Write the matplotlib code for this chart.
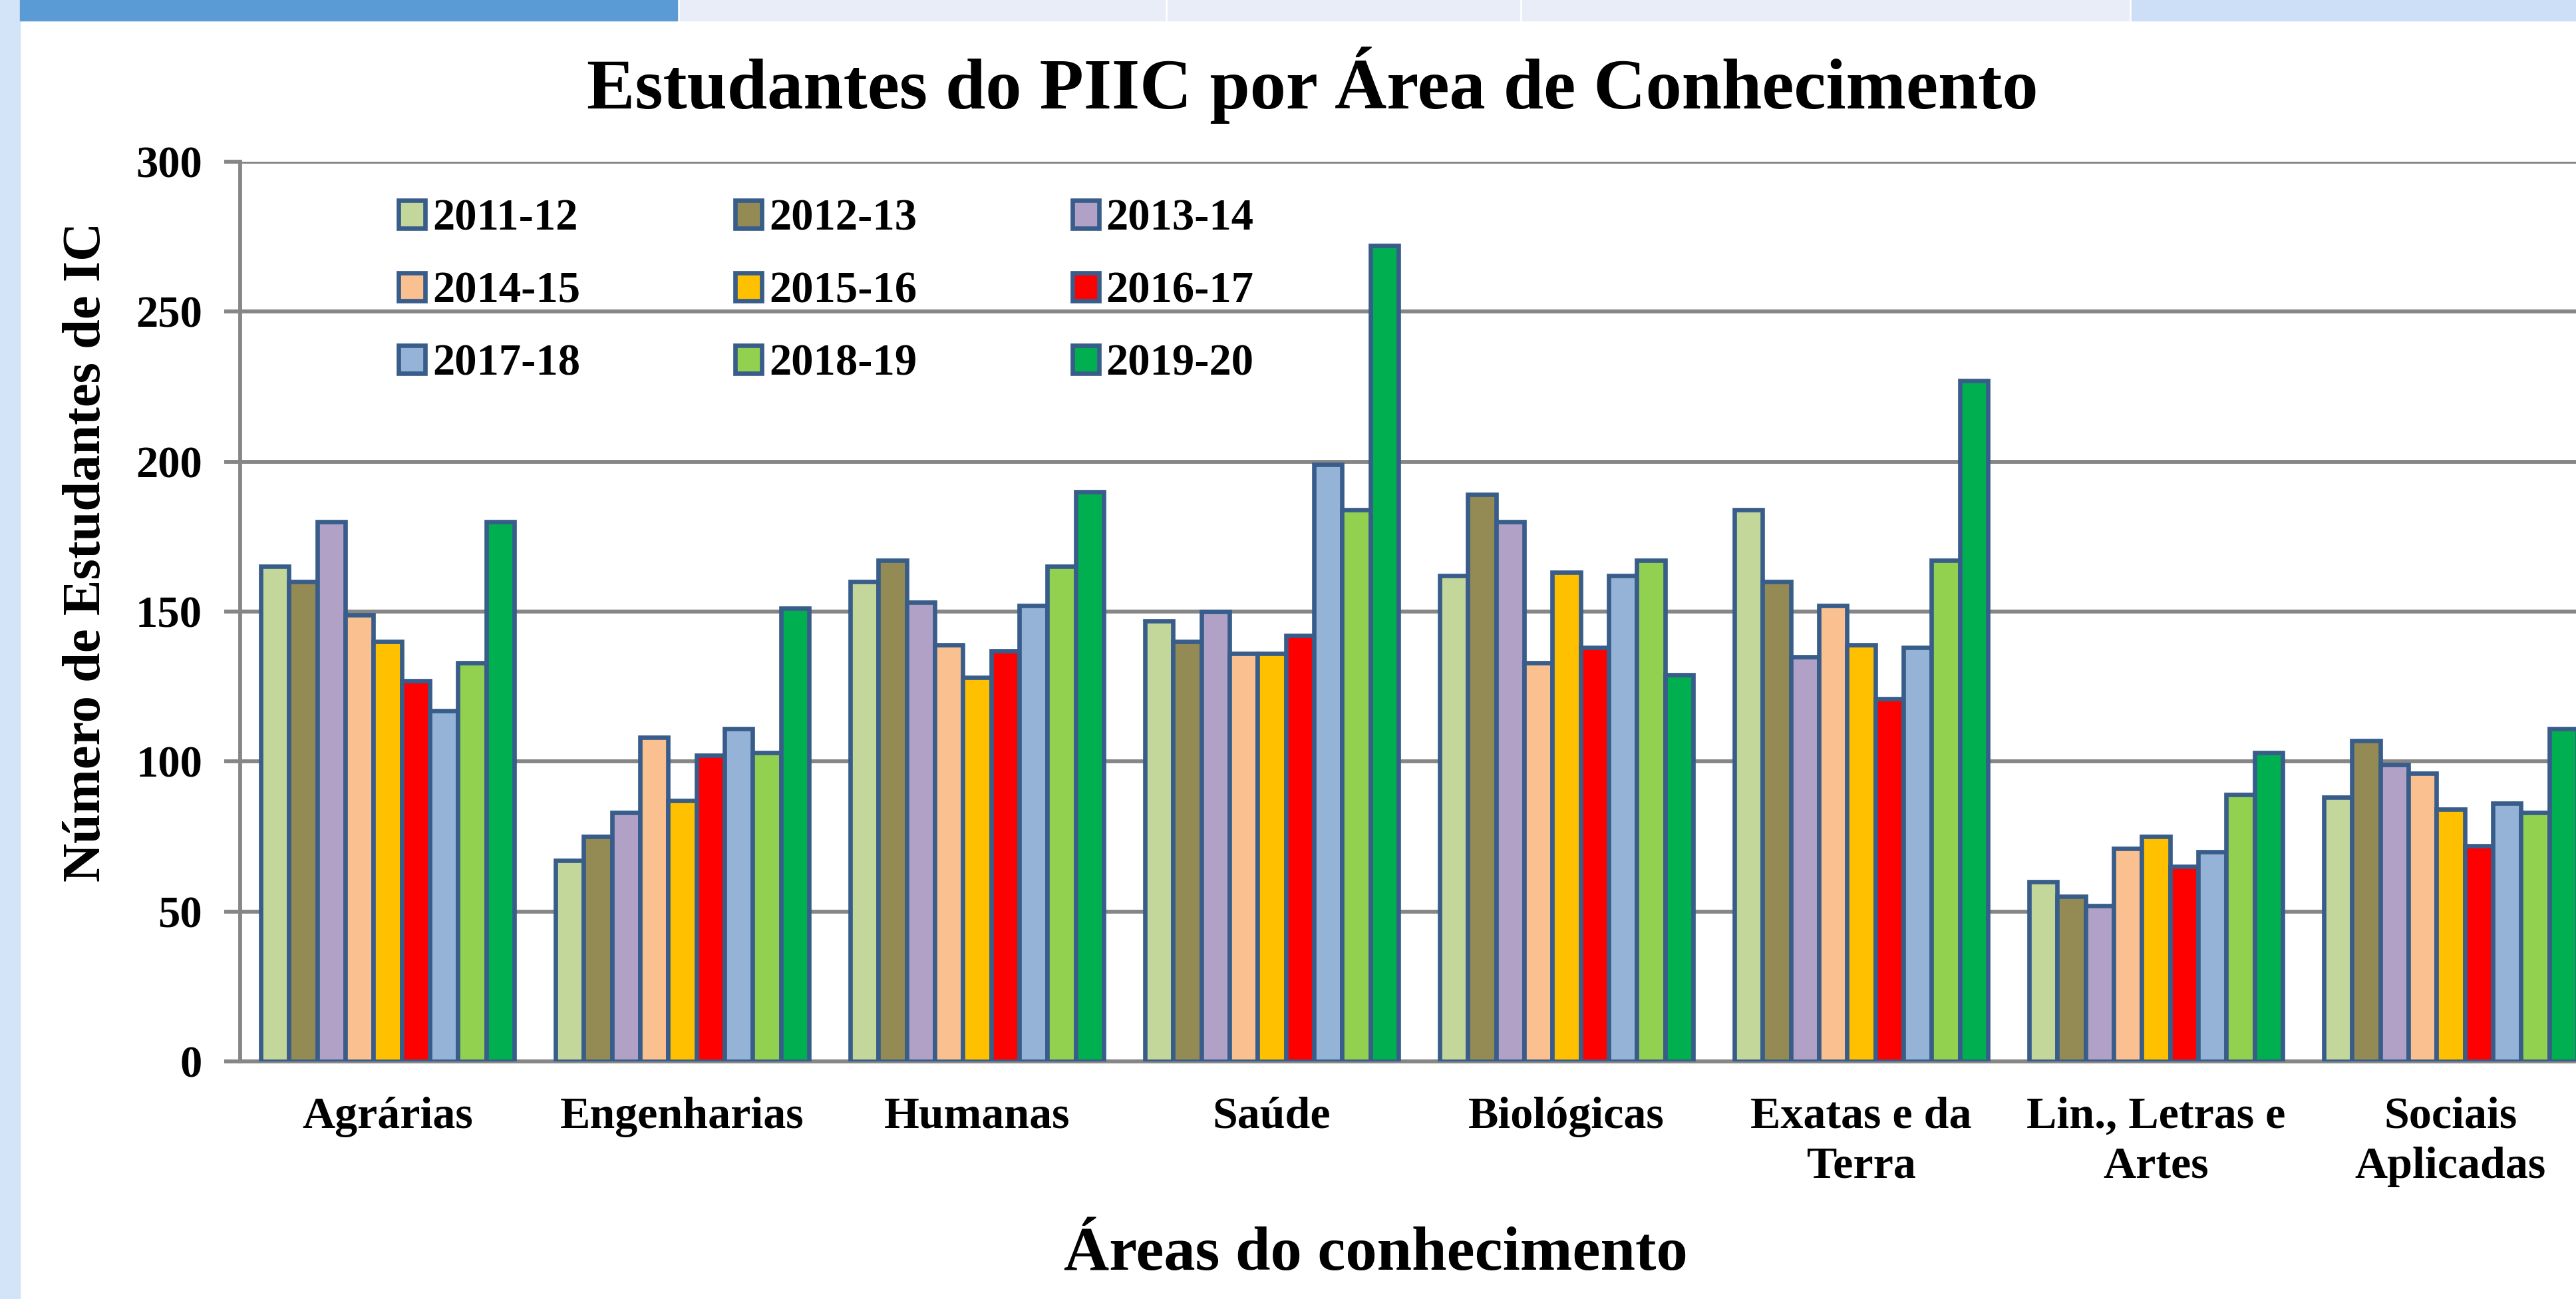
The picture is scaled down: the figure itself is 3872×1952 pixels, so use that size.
import matplotlib.pyplot as plt
from matplotlib.patches import Rectangle
import numpy as np

plt.rcParams['font.family'] = ['Liberation Serif', 'DejaVu Serif']
plt.rcParams['font.weight'] = 'bold'

categorias = ['Agrárias', 'Engenharias', 'Humanas', 'Saúde', 'Biológicas',
              'Exatas e da\nTerra', 'Lin., Letras e\nArtes', 'Sociais\nAplicadas']
anos = ['2011-12', '2012-13', '2013-14', '2014-15', '2015-16',
        '2016-17', '2017-18', '2018-19', '2019-20']

a2011 = [165, 67, 160, 147, 162, 184, 60, 88]
a2012 = [160, 75, 167, 140, 189, 160, 55, 107]
a2013 = [180, 83, 153, 150, 180, 135, 52, 99]
a2014 = [149, 108, 139, 136, 133, 152, 71, 96]
a2015 = [140, 87, 128, 136, 163, 139, 75, 84]
a2016 = [127, 102, 137, 142, 138, 121, 65, 72]
a2017 = [117, 111, 152, 199, 162, 138, 70, 86]
a2018 = [133, 103, 165, 184, 167, 167, 89, 83]
a2019 = [180, 151, 190, 272, 129, 227, 103, 111]

cores = ['#C4D79B', '#948A54', '#B2A1C7', '#FAC090', '#FFC000',
         '#FF0000', '#95B3D7', '#92D050', '#00B050']

series = [a2011, a2012, a2013, a2014, a2015, a2016, a2017, a2018, a2019]

fig = plt.figure(figsize=(38.73, 19.52), dpi=100)
fig.patch.set_facecolor('white')

# faixas decorativas do slide
fig.add_artist(Rectangle((0, 0), 30 / 3873, 1, transform=fig.transFigure,
                         color='#D3E3F8', zorder=0))
faixas = [(30, 1018, '#5B9BD5'), (1022, 1751, '#E9EDF7'), (1755, 2284, '#E9EDF7'),
          (2288, 3200, '#E9EDF7'), (3204, 3873, '#CCDFF7')]
for x0, x1, c in faixas:
    fig.add_artist(Rectangle((x0 / 3873, 1 - 31 / 1952), (x1 - x0) / 3873, 31 / 1952,
                             transform=fig.transFigure, color=c, zorder=0))

ax = fig.add_axes([361 / 3873, 0.1829, 3544 / 3873, 0.6926])

x = np.arange(len(categorias))
w = 0.0957
barras = []
for i, (vals, ano) in enumerate(zip(series, anos)):
    b = ax.bar(x + (i - 4) * w, vals, w, color=cores[i], edgecolor='#385D8A',
               linewidth=4.8, label=ano, zorder=3)
    barras.append(b)

ax.set_xlim(-0.5, 7.5)
ax.set_ylim(0, 300)
ax.set_yticks(np.arange(0, 301, 50))
ax.set_xticks(x)
ax.set_xticklabels(categorias, fontsize=49, fontweight='bold', linespacing=1.3)
ax.tick_params(axis='x', length=0, pad=38)
ax.tick_params(axis='y', length=17, width=4.2, color='#868686', pad=24, labelsize=48)
for lab in ax.get_yticklabels():
    lab.set_fontweight('bold')

ax.grid(axis='y', color='#868686', linewidth=4.2, zorder=0)
ax.set_axisbelow(True)
for s in ['top', 'right']:
    ax.spines[s].set_visible(False)
for s in ['left', 'bottom']:
    ax.spines[s].set_color('#868686')
    ax.spines[s].set_linewidth(4.2)

ordem = [0, 3, 6, 1, 4, 7, 2, 5, 8]
ax.legend([barras[k] for k in ordem], [anos[k] for k in ordem], ncol=3,
          loc='upper left', bbox_to_anchor=(0.0672, 0.959), frameon=False,
          prop={'weight': 'bold', 'size': 48},
          handlelength=0.6, handleheight=0.6, handletextpad=0.16,
          columnspacing=3.5, labelspacing=0.72, borderpad=0, borderaxespad=0)

fig.text(0.5094, 1 - 163 / 1952, 'Estudantes do PIIC por Área de Conhecimento',
         ha='center', va='baseline', fontsize=78, fontweight='bold')
fig.text(2068 / 3873, 1 - 1908 / 1952, 'Áreas do conhecimento',
         ha='center', va='baseline', fontsize=68, fontweight='bold')
fig.text(131 / 3873, 1 - 829 / 1952, 'Número de Estudantes de IC', rotation=90,
         ha='center', va='center', fontsize=58, fontweight='bold')

fig.savefig('out.png', dpi=100, facecolor='white')
